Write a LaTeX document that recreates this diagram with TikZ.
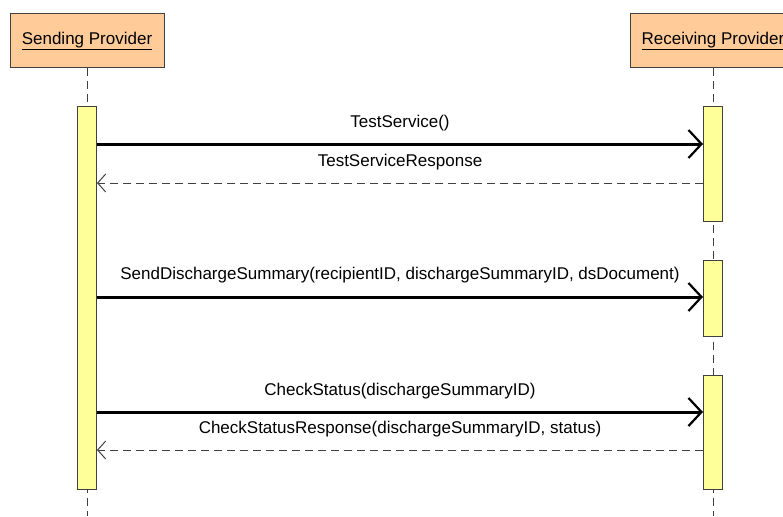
\documentclass[tikz,border=0pt]{standalone}
\usepackage{fontspec}
\setmainfont{Liberation Sans}
\usetikzlibrary{arrows.meta}

\definecolor{headfill}{HTML}{FFCC99}
\definecolor{actfill}{HTML}{FFFF99}
\definecolor{edgegray}{HTML}{404040}

\begin{document}
\begin{tikzpicture}[x=1pt, y=-1pt,
                    every node/.style={font=\fontsize{17}{20}\selectfont},
                    lifeline/.style={draw=edgegray, line width=1pt, dash pattern=on 8pt off 5pt},
                    call/.style={draw=black, line width=3pt, -{Straight Barb[length=13pt, width=28pt, line width=2.2pt]}},
                    reply/.style={draw=black!75, line width=1pt, dash pattern=on 8pt off 5pt, -{Straight Barb[length=8pt, width=18pt, line width=1pt]}}
                   ]

    % Define styles for the lifeline heads and activation bars
    \tikzset{
        headbox/.style={draw=edgegray, fill=headfill, line width=1pt, minimum width=154pt, minimum height=54pt, inner sep=0pt},
        actbar/.style={draw=edgegray, fill=actfill, line width=1pt, minimum width=19pt, inner sep=0pt, anchor=north},
        msglabel/.style={inner sep=0pt, anchor=base}
    }

    \useasboundingbox (0,0) rectangle (783,516);
    \clip (0,0) rectangle (783,516);

    % Heads of the two lifelines
    \node[headbox] (send) at (87, 41) {\underline{Sending Provider}};
    \node[headbox, minimum width=166pt] (recv) at (713, 41) {\underline{Receiving Provider}};

    % Lifelines
    \coordinate (sendEnd) at (87, 516);
    \coordinate (recvEnd) at (713, 516);
    \draw[lifeline] (send.south) -- (sendEnd);
    \draw[lifeline] (recv.south) -- (recvEnd);

    % Activation bars
    \node[actbar, minimum height=383pt] (sA) at (87, 106) {};
    \node[actbar, minimum height=115pt] (rA1) at (713, 106) {};
    \node[actbar, minimum height=76pt] (rA2) at (713, 260) {};
    \node[actbar, minimum height=114pt] (rA3) at (713, 375) {};

    % Heights of the messages
    \coordinate (m1) at (0, 144);
    \coordinate (m2) at (0, 183);
    \coordinate (m3) at (0, 297);
    \coordinate (m4) at (0, 412);
    \coordinate (m5) at (0, 450);

    % Messages between the providers
    \draw[call] (sA.east |- m1) -- (rA1.west |- m1);
    \draw[reply] (rA1.west |- m2) -- (sA.east |- m2);
    \draw[call] (sA.east |- m3) -- (rA2.west |- m3);
    \draw[call] (sA.east |- m4) -- (rA3.west |- m4);
    \draw[reply] (rA3.west |- m5) -- (sA.east |- m5);

    % Message labels
    \node[msglabel] (l1) at (400, 128) {TestService()};
    \node[msglabel] (l2) at (400, 166) {TestServiceResponse};
    \node[msglabel] (l3) at (400, 279) {SendDischargeSummary(recipientID, dischargeSummaryID, dsDocument)};
    \node[msglabel] (l4) at (400, 395) {CheckStatus(dischargeSummaryID)};
    \node[msglabel] (l5) at (400, 433) {CheckStatusResponse(dischargeSummaryID, status)};

\end{tikzpicture}
\end{document}
